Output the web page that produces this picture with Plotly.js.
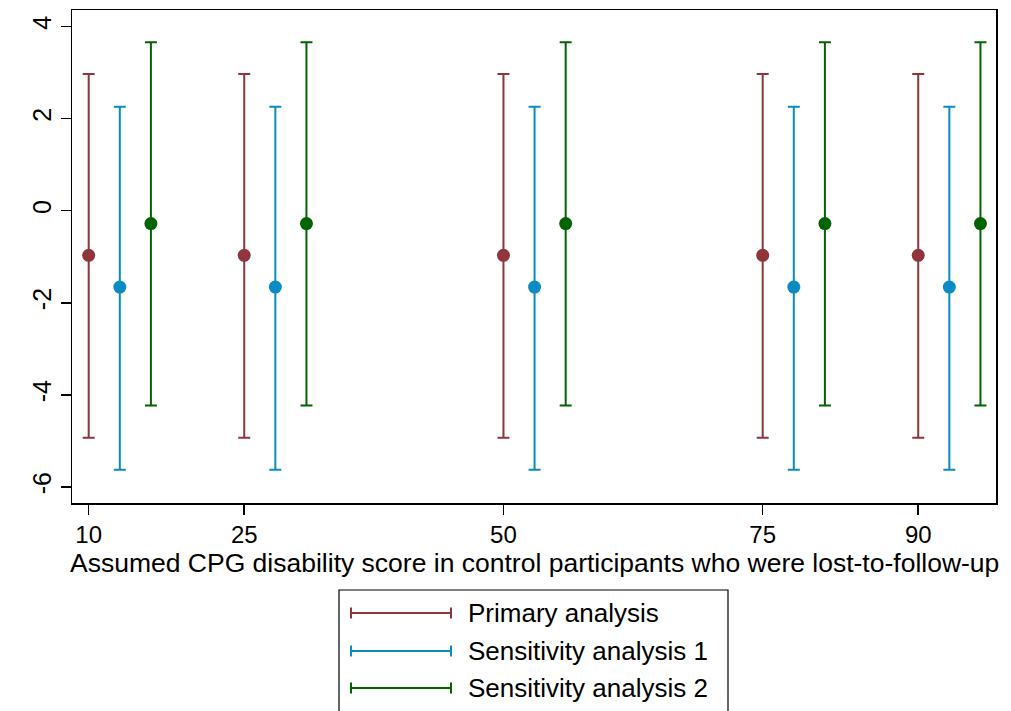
<!DOCTYPE html>
<html>
<head>
<meta charset="utf-8">
<script src="https://cdn.plot.ly/plotly-3.0.1.min.js"></script>
<style>html,body{margin:0;padding:0;background:#fff;}#chart{width:1011px;height:711px;}</style>
</head>
<body>
<div id="chart"></div>
<script>
// ---- data ----
const scores = [10, 25, 50, 75, 90];
const seriesNames = ["Primary analysis", "Sensitivity analysis 1", "Sensitivity analysis 2"];
const primaryEst = [-0.97, -0.97, -0.97, -0.97, -0.97];
const primaryLo  = [-4.93, -4.93, -4.93, -4.93, -4.93];
const primaryHi  = [2.97, 2.97, 2.97, 2.97, 2.97];
const sens1Est = [-1.66, -1.66, -1.66, -1.66, -1.66];
const sens1Lo  = [-5.63, -5.63, -5.63, -5.63, -5.63];
const sens1Hi  = [2.26, 2.26, 2.26, 2.26, 2.26];
const sens2Est = [-0.28, -0.28, -0.28, -0.28, -0.28];
const sens2Lo  = [-4.23, -4.23, -4.23, -4.23, -4.23];
const sens2Hi  = [3.66, 3.66, 3.66, 3.66, 3.66];
const xTickVals = [10, 25, 50, 75, 90];
const xTickText = ["10", "25", "50", "75", "90"];
const yTickVals = [-6, -4, -2, 0, 2, 4];
const yTickText = ["-6", "-4", "-2", "0", "2", "4"];
const xTitle = "Assumed CPG disability score in control participants who were lost-to-follow-up";

// ---- style ----
const colors = ["#90353B", "#0A8BC2", "#006400"];
const dodge = [0, 3, 6];
const FONT = "Liberation Sans, Arial, sans-serif";

const est = [primaryEst, sens1Est, sens2Est];
const lo = [primaryLo, sens1Lo, sens2Lo];
const hi = [primaryHi, sens1Hi, sens2Hi];

const traces = est.map((e, i) => ({
  type: "scatter",
  mode: "markers",
  name: seriesNames[i],
  x: scores.map(s => s + dodge[i]),
  y: e,
  marker: {color: colors[i], size: 13},
  error_y: {
    type: "data", symmetric: false,
    array: hi[i].map((h, k) => h - e[k]),
    arrayminus: lo[i].map((l, k) => e[k] - l),
    color: colors[i], thickness: 2, width: 6
  },
  showlegend: false,
  hoverinfo: "x+y"
}));

// plot area in pixels: left 72, right 996, top 10, bottom 503
const L = 72, R = 996, T = 10, B = 503;
const px = v => (v - L) / (R - L);
const py = v => (B - v) / (B - T);

const shapes = [
  {type: "rect", xref: "paper", yref: "paper", x0: px(339), x1: px(728), y0: py(590), y1: py(730),
   line: {color: "#000", width: 1.2}, fillcolor: "rgba(0,0,0,0)"}
];
const annotations = [
  {xref: "paper", yref: "paper", x: 0.5, y: py(563), xanchor: "center", yanchor: "middle",
   text: xTitle, showarrow: false, font: {family: FONT, size: 26.5, color: "#000"}}
];
const rowsY = [613, 651, 688];
seriesNames.forEach((n, i) => {
  const yy = rowsY[i];
  shapes.push({type: "line", xref: "paper", yref: "paper", x0: px(351), x1: px(451), y0: py(yy), y1: py(yy), line: {color: colors[i], width: 2}});
  shapes.push({type: "line", xref: "paper", yref: "paper", x0: px(351), x1: px(351), y0: py(yy - 5.5), y1: py(yy + 5.5), line: {color: colors[i], width: 2}});
  shapes.push({type: "line", xref: "paper", yref: "paper", x0: px(451), x1: px(451), y0: py(yy - 5.5), y1: py(yy + 5.5), line: {color: colors[i], width: 2}});
  annotations.push({xref: "paper", yref: "paper", x: px(466), y: py(yy), xanchor: "left", yanchor: "middle",
    text: n, showarrow: false, font: {family: FONT, size: 26, color: "#000"}});
});

const layout = {
  width: 1011, height: 711,
  margin: {l: L, r: 1011 - R, t: T, b: 711 - B, pad: 0},
  paper_bgcolor: "#fff", plot_bgcolor: "#fff",
  font: {family: FONT, color: "#000"},
  showlegend: false,
  xaxis: {
    range: [8.39, 97.5], tickvals: xTickVals, ticktext: xTickText,
    ticks: "outside", ticklen: 10, tickwidth: 1.5, tickcolor: "#000",
    showline: true, linecolor: "#000", linewidth: 1.5, mirror: true,
    showgrid: false, zeroline: false,
    tickfont: {family: FONT, size: 24, color: "#000"}
  },
  yaxis: {
    range: [-6.35, 4.36], tickvals: yTickVals, ticktext: yTickText, tickangle: -90,
    ticks: "outside", ticklen: 10, tickwidth: 1.5, tickcolor: "#000",
    showline: true, linecolor: "#000", linewidth: 1.5, mirror: true,
    showgrid: false, zeroline: false,
    tickfont: {family: FONT, size: 25, color: "#000"}
  },
  shapes: shapes,
  annotations: annotations
};

Plotly.newPlot("chart", traces, layout, {displayModeBar: false, staticPlot: true});
</script>
</body>
</html>
